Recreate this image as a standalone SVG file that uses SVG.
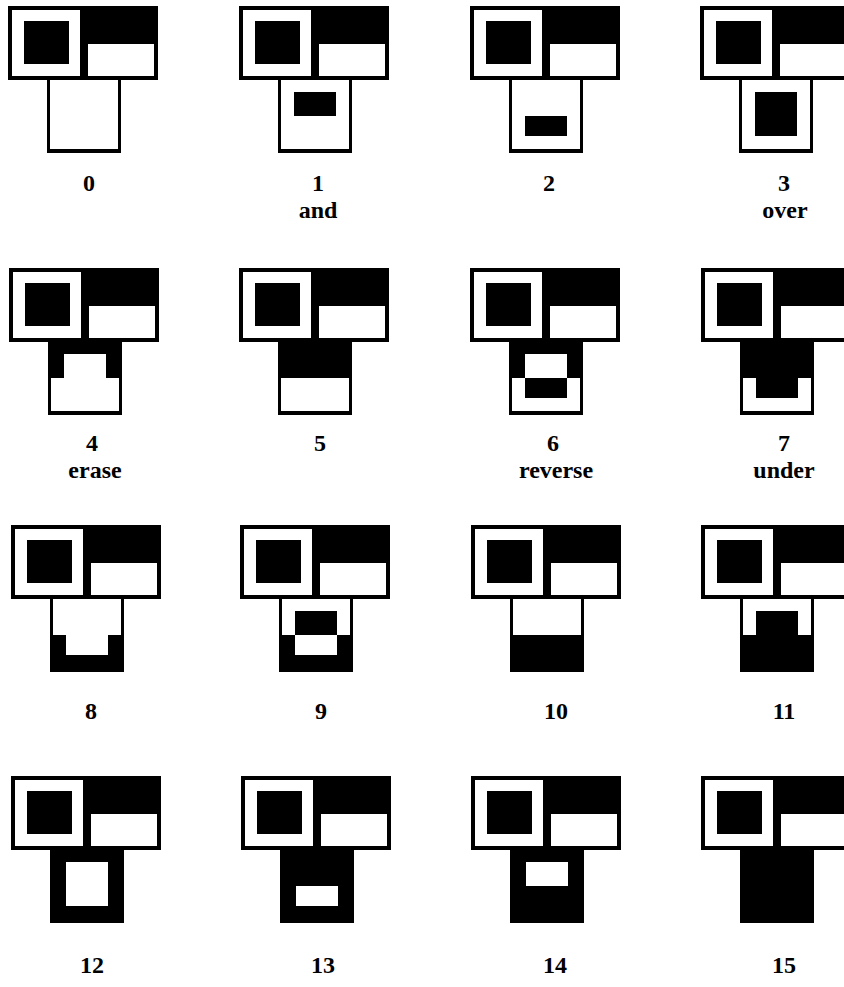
<svg xmlns="http://www.w3.org/2000/svg" xmlns:xlink="http://www.w3.org/1999/xlink" width="844" height="987" viewBox="0 0 844 987">
<style>
.k{fill:#000}
.w{fill:#fff}
.lbl{font-family:"Liberation Serif","Times New Roman",serif;font-weight:bold;font-size:24px;fill:#000;text-anchor:middle}
</style>
<defs>
<g id="base">
<rect x="0" y="0" width="150" height="74" class="k"/>
<rect x="4" y="4" width="68" height="66" class="w"/>
<rect x="16" y="15" width="45" height="43" class="k"/>
<rect x="80" y="38" width="66" height="32" class="w"/>
<rect x="39" y="72" width="74" height="75" class="k"/>
<rect x="42" y="74" width="68" height="69" class="w"/>
</g>
<rect id="tb" x="0" y="0" width="68" height="36"/>
<rect id="bb" x="0" y="36" width="68" height="33"/>
<rect id="st" x="13" y="12" width="42" height="24"/>
<rect id="sb" x="13" y="36" width="42" height="20"/>
</defs>
<rect width="844" height="987" fill="#fff"/>

<g id="cell0" transform="translate(8,6)"><use href="#base"/><g transform="translate(42,74)"></g></g>
<g id="cell1" transform="translate(239,6)"><use href="#base"/><g transform="translate(42,74)"><use href="#st" class="k"/></g></g>
<g id="cell2" transform="translate(470,6)"><use href="#base"/><g transform="translate(42,74)"><use href="#sb" class="k"/></g></g>
<g id="cell3" transform="translate(700,6)"><use href="#base"/><g transform="translate(42,74)"><use href="#st" class="k"/><use href="#sb" class="k"/></g></g>

<g id="cell4" transform="translate(9,268)"><use href="#base"/><g transform="translate(42,74)"><use href="#tb" class="k"/><use href="#st" class="w"/></g></g>
<g id="cell5" transform="translate(239,268)"><use href="#base"/><g transform="translate(42,74)"><use href="#tb" class="k"/></g></g>
<g id="cell6" transform="translate(470,268)"><use href="#base"/><g transform="translate(42,74)"><use href="#tb" class="k"/><use href="#st" class="w"/><use href="#sb" class="k"/></g></g>
<g id="cell7" transform="translate(701,268)"><use href="#base"/><g transform="translate(42,74)"><use href="#tb" class="k"/><use href="#sb" class="k"/></g></g>

<g id="cell8" transform="translate(11,525)"><use href="#base"/><g transform="translate(42,74)"><use href="#bb" class="k"/><use href="#sb" class="w"/></g></g>
<g id="cell9" transform="translate(240,525)"><use href="#base"/><g transform="translate(42,74)"><use href="#bb" class="k"/><use href="#sb" class="w"/><use href="#st" class="k"/></g></g>
<g id="cell10" transform="translate(471,525)"><use href="#base"/><g transform="translate(42,74)"><use href="#bb" class="k"/></g></g>
<g id="cell11" transform="translate(701,525)"><use href="#base"/><g transform="translate(42,74)"><use href="#bb" class="k"/><use href="#st" class="k"/></g></g>

<g id="cell12" transform="translate(11,776)"><use href="#base"/><g transform="translate(42,74)"><use href="#tb" class="k"/><use href="#bb" class="k"/><use href="#st" class="w"/><use href="#sb" class="w"/></g></g>
<g id="cell13" transform="translate(241,776)"><use href="#base"/><g transform="translate(42,74)"><use href="#tb" class="k"/><use href="#bb" class="k"/><use href="#sb" class="w"/></g></g>
<g id="cell14" transform="translate(471,776)"><use href="#base"/><g transform="translate(42,74)"><use href="#tb" class="k"/><use href="#bb" class="k"/><use href="#st" class="w"/></g></g>
<g id="cell15" transform="translate(701,776)"><use href="#base"/><g transform="translate(42,74)"><use href="#tb" class="k"/><use href="#bb" class="k"/></g></g>

<g id="labels">
<text class="lbl" x="89" y="191">0</text>
<text class="lbl" x="318" y="191">1</text>
<text class="lbl" x="318" y="218">and</text>
<text class="lbl" x="549" y="191">2</text>
<text class="lbl" x="784" y="191">3</text>
<text class="lbl" x="785" y="218">over</text>
<text class="lbl" x="92" y="451">4</text>
<text class="lbl" x="95" y="478">erase</text>
<text class="lbl" x="320" y="451">5</text>
<text class="lbl" x="553" y="451">6</text>
<text class="lbl" x="556" y="478">reverse</text>
<text class="lbl" x="784" y="451">7</text>
<text class="lbl" x="784" y="478">under</text>
<text class="lbl" x="91" y="719">8</text>
<text class="lbl" x="321" y="719">9</text>
<text class="lbl" x="556" y="719">10</text>
<text class="lbl" x="784" y="719">11</text>
<text class="lbl" x="92" y="973">12</text>
<text class="lbl" x="323" y="973">13</text>
<text class="lbl" x="555" y="973">14</text>
<text class="lbl" x="784" y="973">15</text>
</g>
</svg>
